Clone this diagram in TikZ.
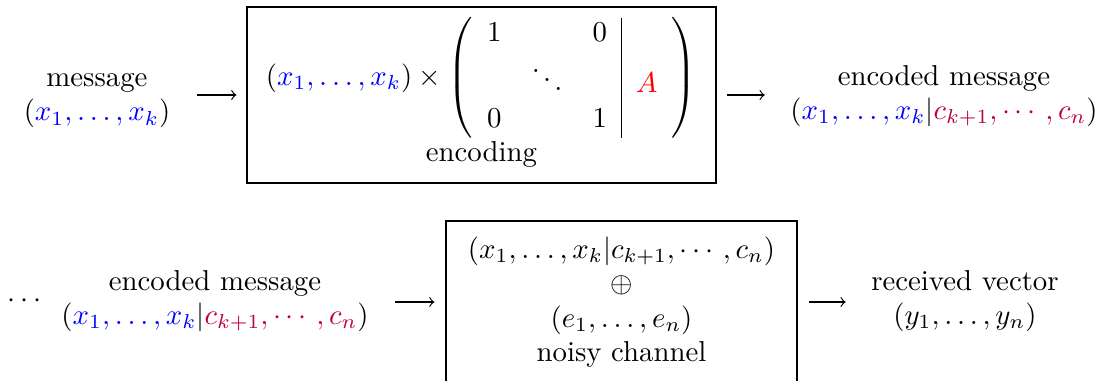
\documentclass[tikz,border=0pt]{standalone}
\usepackage{amsmath}
\usepackage{xcolor}
\begin{document}
\begin{tikzpicture}[x=0.3472pt,y=-0.3472pt,
  lbl/.style={align=center, inner sep=0pt},
  blk/.style={draw, line width=0.4pt, align=center, inner sep=0pt},
  arr/.style={->, line width=0.4pt}]
\useasboundingbox (0,0) rectangle (1104,381);
% top row
\node[lbl] (msg) at (97,100.7) {message\\$(\textcolor{blue}{x_1,\ldots,x_k})$};
\node[blk, minimum width=162.8pt, minimum height=61.1pt] (enc) at (481.5,95)
  {$(\textcolor{blue}{x_1,\ldots,x_k})\times\left(\begin{array}{ccc|c}1&&0&\\[5.7pt]&\smash{\ddots}&&\textcolor{red}{A}\\0&&1&\end{array}\right)$\\encoding\rule[-4pt]{0pt}{4pt}};
\node[lbl] (cw) at (944,95.9) {encoded message\\$(\textcolor{blue}{x_1,\ldots,x_k}|\textcolor{purple}{c_{k+1},\cdots,c_n})$};
% bottom row
\node[anchor=base, inner sep=0pt] (more) at (27,307) {$\cdots$};
\node[lbl] (cwb) at (215,300.9) {encoded message\\$(\textcolor{blue}{x_1,\ldots,x_k}|\textcolor{purple}{c_{k+1},\cdots,c_n})$};
\node[blk, minimum width=121.9pt, minimum height=56.2pt] (chan) at (621.5,302)
  {$(x_1,\ldots,x_k|c_{k+1},\cdots,c_n)$\\$\oplus$\\$(e_1,\ldots,e_n)$\\noisy channel};
\node[lbl] (recv) at (965,300.9) {received vector\\$(y_1,\ldots,y_n)$};
% connectors
\draw[arr, shorten <=9pt, shorten >=3.5pt] (msg.east |- enc.west) -- (enc.west);
\draw[arr, shorten <=3.8pt, shorten >=8.7pt] (enc.east) -- (enc.east -| cw.west);
\draw[arr, shorten <=9pt, shorten >=3.8pt] (cwb.east |- chan.west) -- (chan.west);
\draw[arr, shorten <=3.8pt, shorten >=8.7pt] (chan.east) -- (chan.east -| recv.west);
\end{tikzpicture}
\end{document}
